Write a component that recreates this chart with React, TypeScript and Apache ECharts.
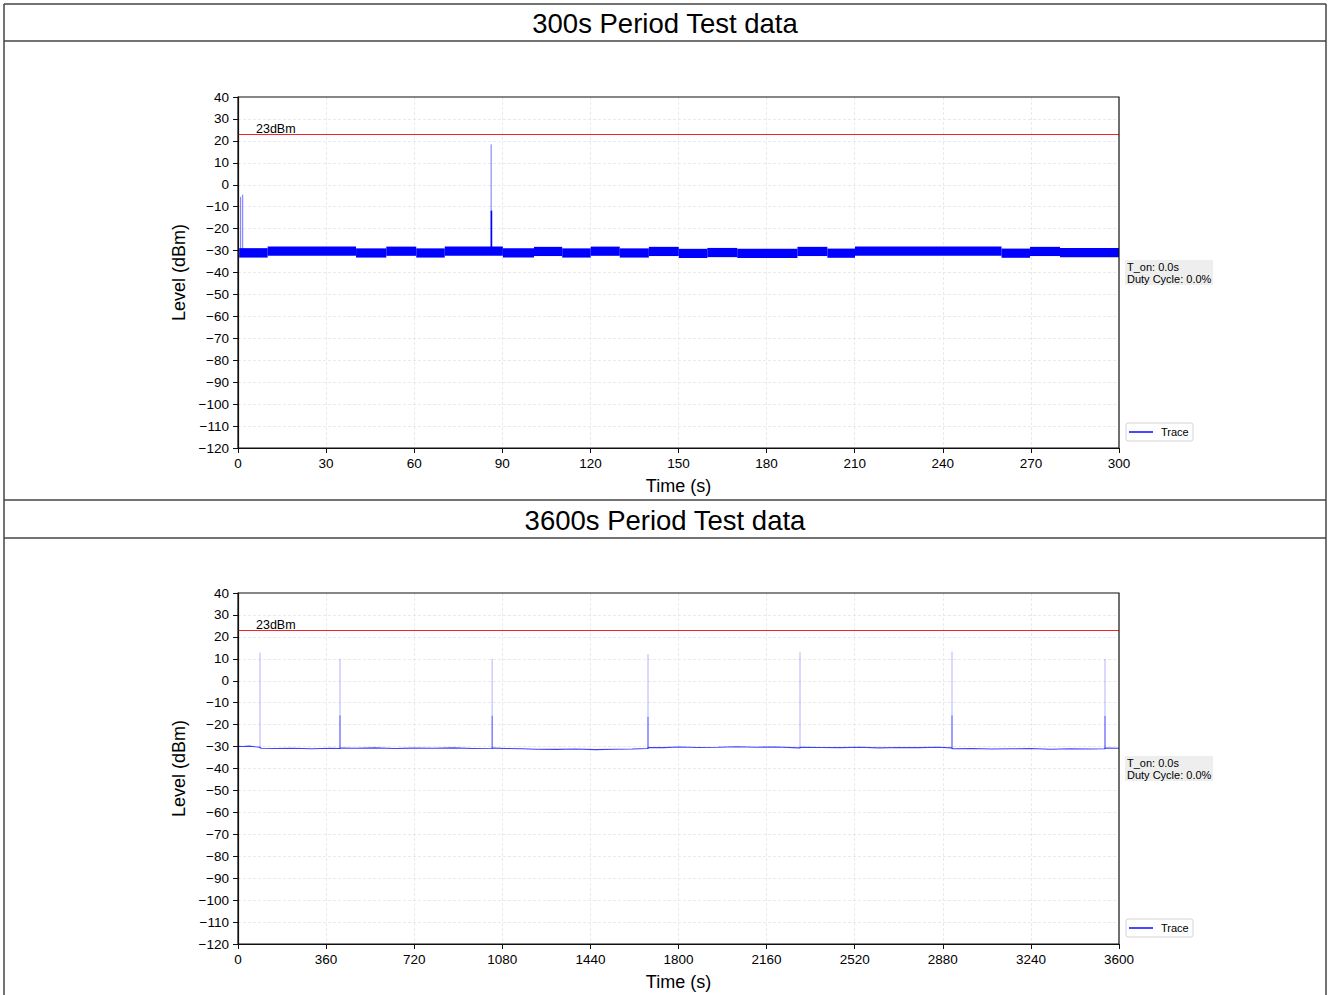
import React, { useEffect, useRef } from "react";
import * as echarts from "echarts";

// ---------- texts ----------
const titles = ["300s Period Test data", "3600s Period Test data"];
const yAxisName = "Level (dBm)";
const xAxisName = "Time (s)";
const thresholdLevel = 23;
const thresholdLabel = "23dBm";
const legendLabel = "Trace";
const infoText = "T_on: 0.0s\nDuty Cycle: 0.0%";

// ---------- axes ----------
const yMin = -120;
const yMax = 40;
const yInterval = 10;
const x1Max = 300;
const x1Interval = 30;
const x2Max = 3600;
const x2Interval = 360;

// ---------- chart 1 (300 s): dense trace drawn as level band segments ----------
const band1Start = [0.4, 10.1, 40.2, 50.5, 60.7, 70.4, 90.2, 100.8, 110.4, 120.1, 130.0, 139.9, 150.1, 159.8, 170.0, 190.5, 200.7, 210.1, 260.0, 269.7, 279.9];
const band1End = [10.1, 40.2, 50.5, 60.7, 70.4, 90.2, 100.8, 110.4, 120.1, 130.0, 139.9, 150.1, 159.8, 170.0, 190.5, 200.7, 210.1, 260.0, 269.7, 279.9, 300.0];
const band1Top = [-28.9, -28.2, -29.0, -28.2, -29.0, -28.2, -29.0, -28.3, -29.0, -28.2, -29.0, -28.3, -29.2, -28.8, -29.2, -28.3, -29.1, -28.1, -29.1, -28.3, -28.8];
const band1Bottom = [-33.2, -32.4, -33.2, -32.4, -33.2, -32.4, -33.2, -32.5, -33.2, -32.4, -33.2, -32.5, -33.4, -33.0, -33.4, -32.5, -33.3, -32.4, -33.3, -32.5, -33.1];
const spike1Time = [0.9, 1.6, 86.2];
const spike1Base = [-30, -30, -29];
const spike1Peak = [-5.5, -4.5, 18.4];
const spike1MidTime = [86.3];
const spike1Mid = [-11.8];

// ---------- chart 2 (3600 s) ----------
const trace2Time = [0, 20, 45, 70, 88, 95, 150, 220, 300, 380, 415, 420, 480, 560, 640, 720, 800, 880, 960, 1036, 1042, 1100, 1160, 1220, 1300, 1380, 1460, 1540, 1610, 1672, 1680, 1740, 1800, 1880, 1960, 2040, 2120, 2200, 2294, 2300, 2380, 2460, 2540, 2620, 2700, 2780, 2860, 2915, 2922, 3000, 3080, 3160, 3240, 3320, 3400, 3480, 3540, 3546, 3600];
const trace2Level = [-29.9, -30.0, -29.8, -30.1, -30.3, -30.8, -30.9, -30.8, -31.0, -30.8, -30.9, -30.7, -30.8, -30.6, -30.9, -30.7, -30.8, -30.6, -30.9, -30.8, -30.7, -30.9, -31.0, -31.2, -31.3, -31.1, -31.4, -31.2, -31.1, -30.9, -30.4, -30.5, -30.2, -30.4, -30.3, -30.1, -30.3, -30.2, -30.6, -30.3, -30.4, -30.5, -30.3, -30.6, -30.4, -30.5, -30.3, -30.6, -31.0, -30.9, -31.1, -31.0, -30.9, -31.2, -31.0, -31.1, -31.0, -30.7, -30.8];
const spike2Time = [89.9, 416.8, 1038.5, 1675.4, 2296.5, 2917.6, 3542.8];
const spike2Peak = [12.8, 10.0, 10.0, 12.2, 13.0, 13.3, 9.9];
const spike2MidTime = [416.8, 1038.5, 1675.4, 2917.6, 3542.8];
const spike2Mid = [-15.8, -16.0, -16.5, -15.8, -16.0];

// ---------- layout ----------
const W = 1330;
const H = 995;
const gridLeft = 238;
const gridWidth = 881;
const gridHeight = 351;
const gridTops = [97, 593];
const FONT = "'Liberation Sans', Arial, Helvetica, sans-serif";
const BLUE = "#0000ff";

const minus = (v: number) => (v < 0 ? "\u2212" + Math.abs(v) : String(v));

function buildOption() {
  const grids = gridTops.map((top) => ({
    left: gridLeft,
    top,
    width: gridWidth,
    height: gridHeight,
    show: true,
    borderColor: "#111",
    borderWidth: 1.2,
    backgroundColor: "transparent",
    z: 10,
  }));

  const xMaxes = [x1Max, x2Max];
  const xIntervals = [x1Interval, x2Interval];
  const split = { show: true, showMinLine: false, showMaxLine: false, lineStyle: { color: "#e4e4e4", width: 0.8, type: [3, 2] } };
  const xAxes = [0, 1].map((i) => ({
    type: "value",
    gridIndex: i,
    min: 0,
    max: xMaxes[i],
    interval: xIntervals[i],
    name: xAxisName,
    nameLocation: "middle",
    nameGap: 29,
    nameTextStyle: { fontFamily: FONT, fontSize: 18, color: "#000" },
    axisLine: { show: true, onZero: false, lineStyle: { color: "#111", width: 1.2 } },
    axisTick: { show: true, inside: false, length: 5, lineStyle: { color: "#111", width: 1 } },
    axisLabel: { fontFamily: FONT, fontSize: 13.5, color: "#000", margin: 8, formatter: (v: number) => String(v) },
    splitLine: split,
  }));
  const yAxes = [0, 1].map((i) => ({
    type: "value",
    gridIndex: i,
    min: yMin,
    max: yMax,
    interval: yInterval,
    name: yAxisName,
    nameLocation: "middle",
    nameGap: 46,
    nameTextStyle: { fontFamily: FONT, fontSize: 18, color: "#000" },
    axisLine: { show: true, onZero: false, lineStyle: { color: "#111", width: 1.2 } },
    axisTick: { show: true, inside: false, length: 5, lineStyle: { color: "#111", width: 1 } },
    axisLabel: { fontFamily: FONT, fontSize: 13.5, color: "#000", margin: 9, formatter: (v: number) => minus(v) },
    splitLine: split,
  }));

  const thresholdMark = {
    silent: true,
    symbol: "none",
    lineStyle: { color: "rgba(240,0,0,0.85)", width: 1.2, type: "solid" },
    label: {
      show: true,
      position: "insideStartTop",
      distance: [18, -1],
      formatter: thresholdLabel,
      fontFamily: FONT,
      fontSize: 12.5,
      color: "#000",
    },
    data: [{ yAxis: thresholdLevel }],
  };

  const bandData = band1Start.map((s, i) => [s, band1End[i], band1Top[i], band1Bottom[i]]);
  const bandSeries = {
    type: "custom",
    xAxisIndex: 0,
    yAxisIndex: 0,
    clip: true,
    encode: { x: [0, 1], y: [2, 3] },
    data: bandData,
    renderItem: (_p: any, api: any) => {
      const a = api.coord([api.value(0), api.value(2)]);
      const b = api.coord([api.value(1), api.value(3)]);
      return {
        type: "rect",
        shape: { x: a[0], y: a[1], width: b[0] - a[0], height: b[1] - a[1] },
        style: { fill: BLUE },
      };
    },
    markLine: thresholdMark,
    z: 3,
  };

  const spikeSeries = (
    xi: number,
    data: number[][],
    color: string,
    width: number,
    z: number
  ) => ({
    type: "custom",
    xAxisIndex: xi,
    yAxisIndex: xi,
    clip: true,
    encode: { x: 0, y: [1, 2] },
    data,
    renderItem: (_p: any, api: any) => {
      const a = api.coord([api.value(0), api.value(1)]);
      const b = api.coord([api.value(0), api.value(2)]);
      return {
        type: "line",
        shape: { x1: a[0], y1: a[1], x2: b[0], y2: b[1] },
        style: { stroke: color, lineWidth: width },
      };
    },
    z,
  });

  const spike1Data = spike1Time.map((t, i) => [t, spike1Base[i], spike1Peak[i]]);
  const spike1MidData = spike1MidTime.map((t, i) => [t, -29, spike1Mid[i]]);
  const spike2Data = spike2Time.map((t, i) => [t, -31, spike2Peak[i]]);
  const spike2MidData = spike2MidTime.map((t, i) => [t, -31, spike2Mid[i]]);

  const trace2Series = {
    type: "line",
    xAxisIndex: 1,
    yAxisIndex: 1,
    symbol: "none",
    data: trace2Time.map((t, i) => [t, trace2Level[i]]),
    lineStyle: { color: "rgba(0,0,255,0.75)", width: 1.1 },
    markLine: thresholdMark,
    z: 4,
  };

  const border = { stroke: "#444", lineWidth: 1.5 };
  const graphic: any[] = [
    { type: "line", shape: { x1: 4, y1: 4, x2: 1326, y2: 4 }, style: border },
    { type: "line", shape: { x1: 4, y1: 41, x2: 1326, y2: 41 }, style: border },
    { type: "line", shape: { x1: 4, y1: 500, x2: 1326, y2: 500 }, style: border },
    { type: "line", shape: { x1: 4, y1: 538, x2: 1326, y2: 538 }, style: border },
    { type: "line", shape: { x1: 4, y1: 4, x2: 4, y2: H }, style: border },
    { type: "line", shape: { x1: 1326, y1: 4, x2: 1326, y2: H }, style: border },
    {
      type: "text",
      x: 665,
      y: 23,
      style: { text: titles[0], font: `27.5px ${FONT}`, fill: "#000", align: "center", verticalAlign: "middle" },
    },
    {
      type: "text",
      x: 665,
      y: 520,
      style: { text: titles[1], font: `27.5px ${FONT}`, fill: "#000", align: "center", verticalAlign: "middle" },
    },
  ];
  gridTops.forEach((top) => {
    graphic.push(
      { type: "rect", shape: { x: 1125, y: top + 163, width: 88, height: 25 }, style: { fill: "#eeeeee" }, z: 5 },
      {
        type: "text",
        x: 1127,
        y: top + 164,
        style: { text: infoText, font: `11px ${FONT}`, fill: "#000", lineHeight: 12 },
        z: 6,
      },
      {
        type: "rect",
        shape: { x: 1126, y: top + 326, width: 67, height: 18, r: 2 },
        style: { fill: "#fff", stroke: "#d4d4d4", lineWidth: 1 },
        z: 5,
      },
      {
        type: "line",
        shape: { x1: 1129, y1: top + 335, x2: 1153, y2: top + 335 },
        style: { stroke: "#4848ff", lineWidth: 2 },
        z: 6,
      },
      {
        type: "text",
        x: 1161,
        y: top + 335,
        style: { text: legendLabel, font: `11px ${FONT}`, fill: "#000", verticalAlign: "middle" },
        z: 6,
      }
    );
  });

  return {
    animation: false,
    backgroundColor: "#fff",
    textStyle: { fontFamily: FONT },
    grid: grids,
    xAxis: xAxes,
    yAxis: yAxes,
    series: [
      bandSeries,
      spikeSeries(0, spike1Data, "rgba(0,0,255,0.55)", 1, 4),
      spikeSeries(0, spike1MidData, BLUE, 1.6, 5),
      trace2Series,
      spikeSeries(1, spike2Data, "rgba(0,0,255,0.3)", 1, 3),
      spikeSeries(1, spike2MidData, "rgba(0,0,255,0.55)", 1, 3),
    ],
    graphic,
  };
}

export default function App() {
  const ref = useRef<HTMLDivElement>(null);
  useEffect(() => {
    if (!ref.current) return;
    const chart = echarts.init(ref.current, undefined, { renderer: "svg", width: W, height: H });
    chart.setOption(buildOption() as any);
    return () => chart.dispose();
  }, []);
  return (
    <div
      ref={ref}
      style={{ position: "absolute", left: 0, top: 0, width: W, height: H, background: "#fff" }}
    />
  );
}
